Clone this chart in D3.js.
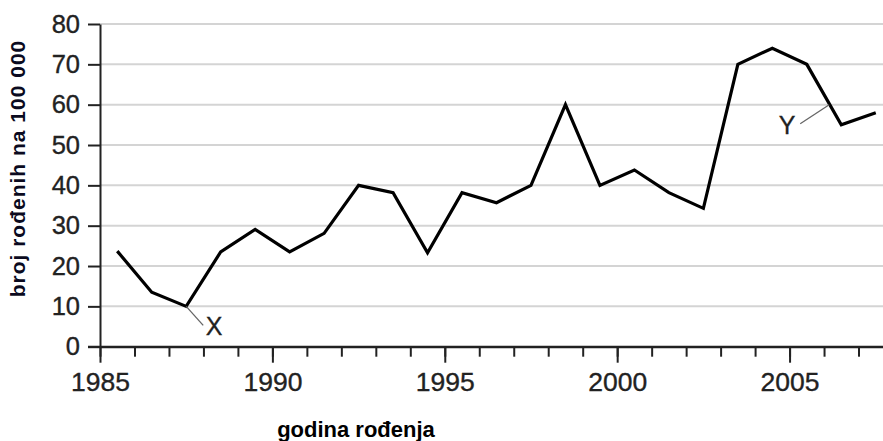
<!DOCTYPE html>
<html>
<head>
<meta charset="utf-8">
<script src="https://cdn.jsdelivr.net/npm/d3@7"></script>
<style>
  body { margin: 0; background: #fff; }
  svg { display: block; }
  svg text { font-family: "Liberation Sans", Arial, sans-serif; }
</style>
</head>
<body>
<div id="chart"></div>
<script>
// Data
var years = [1985.5, 1986.5, 1987.5, 1988.5, 1989.5, 1990.5, 1991.5, 1992.5, 1993.5, 1994.5,
             1995.5, 1996.5, 1997.5, 1998.5, 1999.5, 2000.5, 2001.5, 2002.5, 2003.5, 2004.5,
             2005.5, 2006.5, 2007.5];
var rates = [23.7, 13.5, 10, 23.5, 29.1, 23.5, 28.1, 40, 38.2, 23.3,
             38.2, 35.7, 40, 60, 40, 43.8, 38.2, 34.3, 70, 74,
             70, 55, 58];
var yTicks = [0, 10, 20, 30, 40, 50, 60, 70, 80];
var xMajorTicks = [1985, 1990, 1995, 2000, 2005];
var xMinorTicks = d3.range(1985, 2008);
var annotations = [
    { label: 'X', year: 1987.5, value: 10, dx: 17, dy: 19, tx: 28, ty: 29 },
    { label: 'Y', year: 2006.15, value: 60, dx: -29, dy: 19, tx: -42, ty: 29 }
];

var width = 883, height = 441;

var x = d3.scaleLinear().domain([1985, 2007.71]).range([100, 883]);
var y = d3.scaleLinear().domain([0, 80]).range([346.7, 24]);

var svg = d3.select('#chart').append('svg')
    .attr('width', width)
    .attr('height', height);

// Gridlines
svg.append('g')
    .selectAll('line')
    .data(yTicks.filter(d => d > 0))
    .join('line')
    .attr('x1', x(1985))
    .attr('x2', width)
    .attr('y1', d => y(d))
    .attr('y2', d => y(d))
    .attr('stroke', '#d4d4d4')
    .attr('stroke-width', 2);

// Minor x ticks
var xMinor = svg.append('g')
    .attr('transform', `translate(0,${y(0)})`)
    .call(d3.axisBottom(x).tickValues(xMinorTicks).tickSize(10).tickSizeOuter(0).tickFormat(''));
xMinor.select('.domain').remove();
xMinor.selectAll('line').attr('stroke', '#222').attr('stroke-width', 2);

// Major x ticks + labels
var xAxis = svg.append('g')
    .attr('transform', `translate(0,${y(0)})`)
    .call(d3.axisBottom(x).tickValues(xMajorTicks).tickSize(16).tickSizeOuter(0).tickFormat(d3.format('d')));
xAxis.attr('font-family', null).attr('font-size', null);
xAxis.select('.domain').attr('stroke', '#222').attr('stroke-width', 2);
xAxis.selectAll('line').attr('stroke', '#222').attr('stroke-width', 2);
xAxis.selectAll('text')
    .attr('y', 25)
    .attr('dy', '0.71em')
    .style('font-size', '26.5px')
    .attr('fill', '#222')
    .attr('stroke', '#222')
    .attr('stroke-width', 0.35);

// Y axis
var yAxis = svg.append('g')
    .attr('transform', `translate(${x(1985)},0)`)
    .call(d3.axisLeft(y).tickValues(yTicks).tickSize(12).tickSizeOuter(0));
yAxis.attr('font-family', null).attr('font-size', null);
yAxis.select('.domain').attr('stroke', '#222').attr('stroke-width', 2);
yAxis.selectAll('line').attr('stroke', '#222').attr('stroke-width', 2);
yAxis.selectAll('text')
    .attr('x', -20)
    .style('font-size', '25.5px')
    .attr('fill', '#222')
    .attr('stroke', '#222')
    .attr('stroke-width', 0.35);

// Horizontal axis line extended to the y tick
svg.append('line')
    .attr('x1', x(1985) - 12)
    .attr('x2', width)
    .attr('y1', y(0))
    .attr('y2', y(0))
    .attr('stroke', '#222')
    .attr('stroke-width', 2);

// Data line
var line = d3.line()
    .x((d, i) => x(years[i]))
    .y(d => y(d));

svg.append('path')
    .datum(rates)
    .attr('d', line)
    .attr('fill', 'none')
    .attr('stroke', '#000')
    .attr('stroke-width', 3.2)
    .attr('stroke-linejoin', 'miter');

// Annotations X and Y
var ann = svg.append('g').selectAll('g')
    .data(annotations)
    .join('g')
    .attr('transform', d => `translate(${x(d.year)},${y(d.value)})`);

ann.append('line')
    .attr('x1', 0)
    .attr('y1', 0)
    .attr('x2', d => d.dx)
    .attr('y2', d => d.dy)
    .attr('stroke', '#666')
    .attr('stroke-width', 1.3);

ann.append('text')
    .attr('x', d => d.tx)
    .attr('y', d => d.ty)
    .attr('text-anchor', 'middle')
    .style('font-size', '25px')
    .attr('fill', '#222')
    .attr('stroke', '#222')
    .attr('stroke-width', 0.3)
    .text(d => d.label);

// Axis titles
svg.append('text')
    .attr('x', 356)
    .attr('y', 437)
    .attr('text-anchor', 'middle')
    .style('font-size', '22px')
    .style('font-weight', 'bold')
    .attr('fill', '#000')
    .text('godina rođenja');

svg.append('text')
    .attr('transform', 'translate(25,168.5) rotate(-90)')
    .attr('text-anchor', 'middle')
    .style('font-size', '21px')
    .style('font-weight', 'bold')
    .style('letter-spacing', '1px')
    .attr('fill', '#0a0a20')
    .text('broj rođenih na 100 000');
</script>
</body>
</html>
